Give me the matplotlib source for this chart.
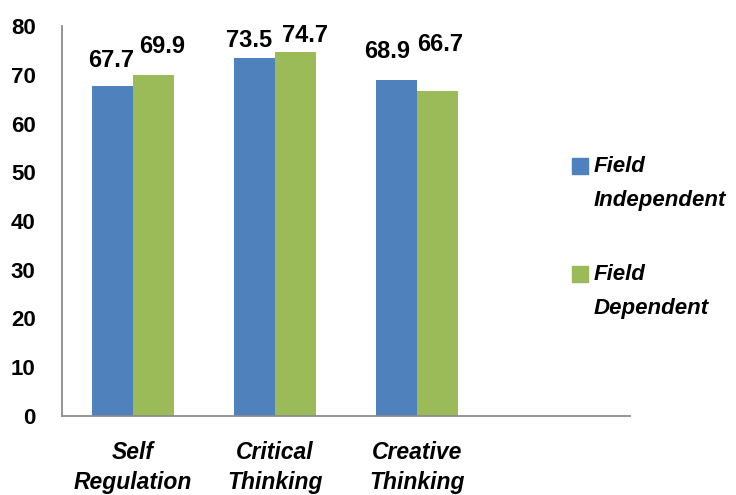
import numpy as np
import matplotlib.pyplot as plt
from matplotlib.patches import Rectangle

categories = ['Self\nRegulation', 'Critical\nThinking', 'Creative\nThinking', '']
field_independent = [67.7, 73.5, 68.9]
field_dependent = [69.9, 74.7, 66.7]
series_names = ['Field\nIndependent', 'Field\nDependent']
yticks = [0, 10, 20, 30, 40, 50, 60, 70, 80]

# label nudges (points), as placed in the original chart
dx_ind = [-1, -4, -7]
dy_ind = [14, 8, 16]
dx_dep = [6, 7, 1.5]
dy_dep = [16, 7, 29]

blue = '#4F81BD'
green = '#9BBB59'
font = 'Liberation Sans'

fig = plt.figure(figsize=(7.36, 4.95), dpi=100)
ax = fig.add_axes([62/736, 79/495, 568/736, 390/495])

x = np.arange(len(field_independent))
w = 0.29
b1 = ax.bar(x - w/2, field_independent, w, color=blue)
b2 = ax.bar(x + w/2, field_dependent, w, color=green)

for bars, dxs, dys in ((b1, dx_ind, dy_ind), (b2, dx_dep, dy_dep)):
    for r, dx, dy in zip(bars, dxs, dys):
        ax.annotate('%.1f' % r.get_height(), (r.get_x() + r.get_width()/2, r.get_height()),
                    xytext=(dx, dy), textcoords='offset points', ha='center', va='baseline',
                    fontsize=17, fontweight='bold', family=font, annotation_clip=False)

ax.set_xlim(-0.5, 3.5)
ax.set_ylim(0, 80)
ax.set_xticks(np.arange(len(categories)))
ax.set_xticklabels(categories, fontsize=16.5, fontweight='bold', style='italic',
                   family=font, linespacing=1.4)
ax.set_yticks(yticks)
ax.set_yticklabels([str(v) for v in yticks], fontsize=16, fontweight='bold', family=font)
ax.tick_params(axis='y', length=0, pad=19)
ax.tick_params(axis='x', length=0, pad=18)
for s in ('top', 'right'):
    ax.spines[s].set_visible(False)
for s in ('left', 'bottom'):
    ax.spines[s].set_color('#8C8C8C')
    ax.spines[s].set_linewidth(1.3)

# legend, square beside the first line of each label
for name, col, ytop in zip(series_names, [blue, green], [158, 266]):
    fig.patches.append(Rectangle((572/736, (495 - ytop - 16)/495), 16/736, 16/495,
                                 transform=fig.transFigure, color=col))
    fig.text(594/736, (495 - ytop + 2)/495, name, ha='left', va='top', fontsize=16,
             fontweight='bold', style='italic', family=font, linespacing=1.8)

fig.savefig('out.png', dpi=100)
